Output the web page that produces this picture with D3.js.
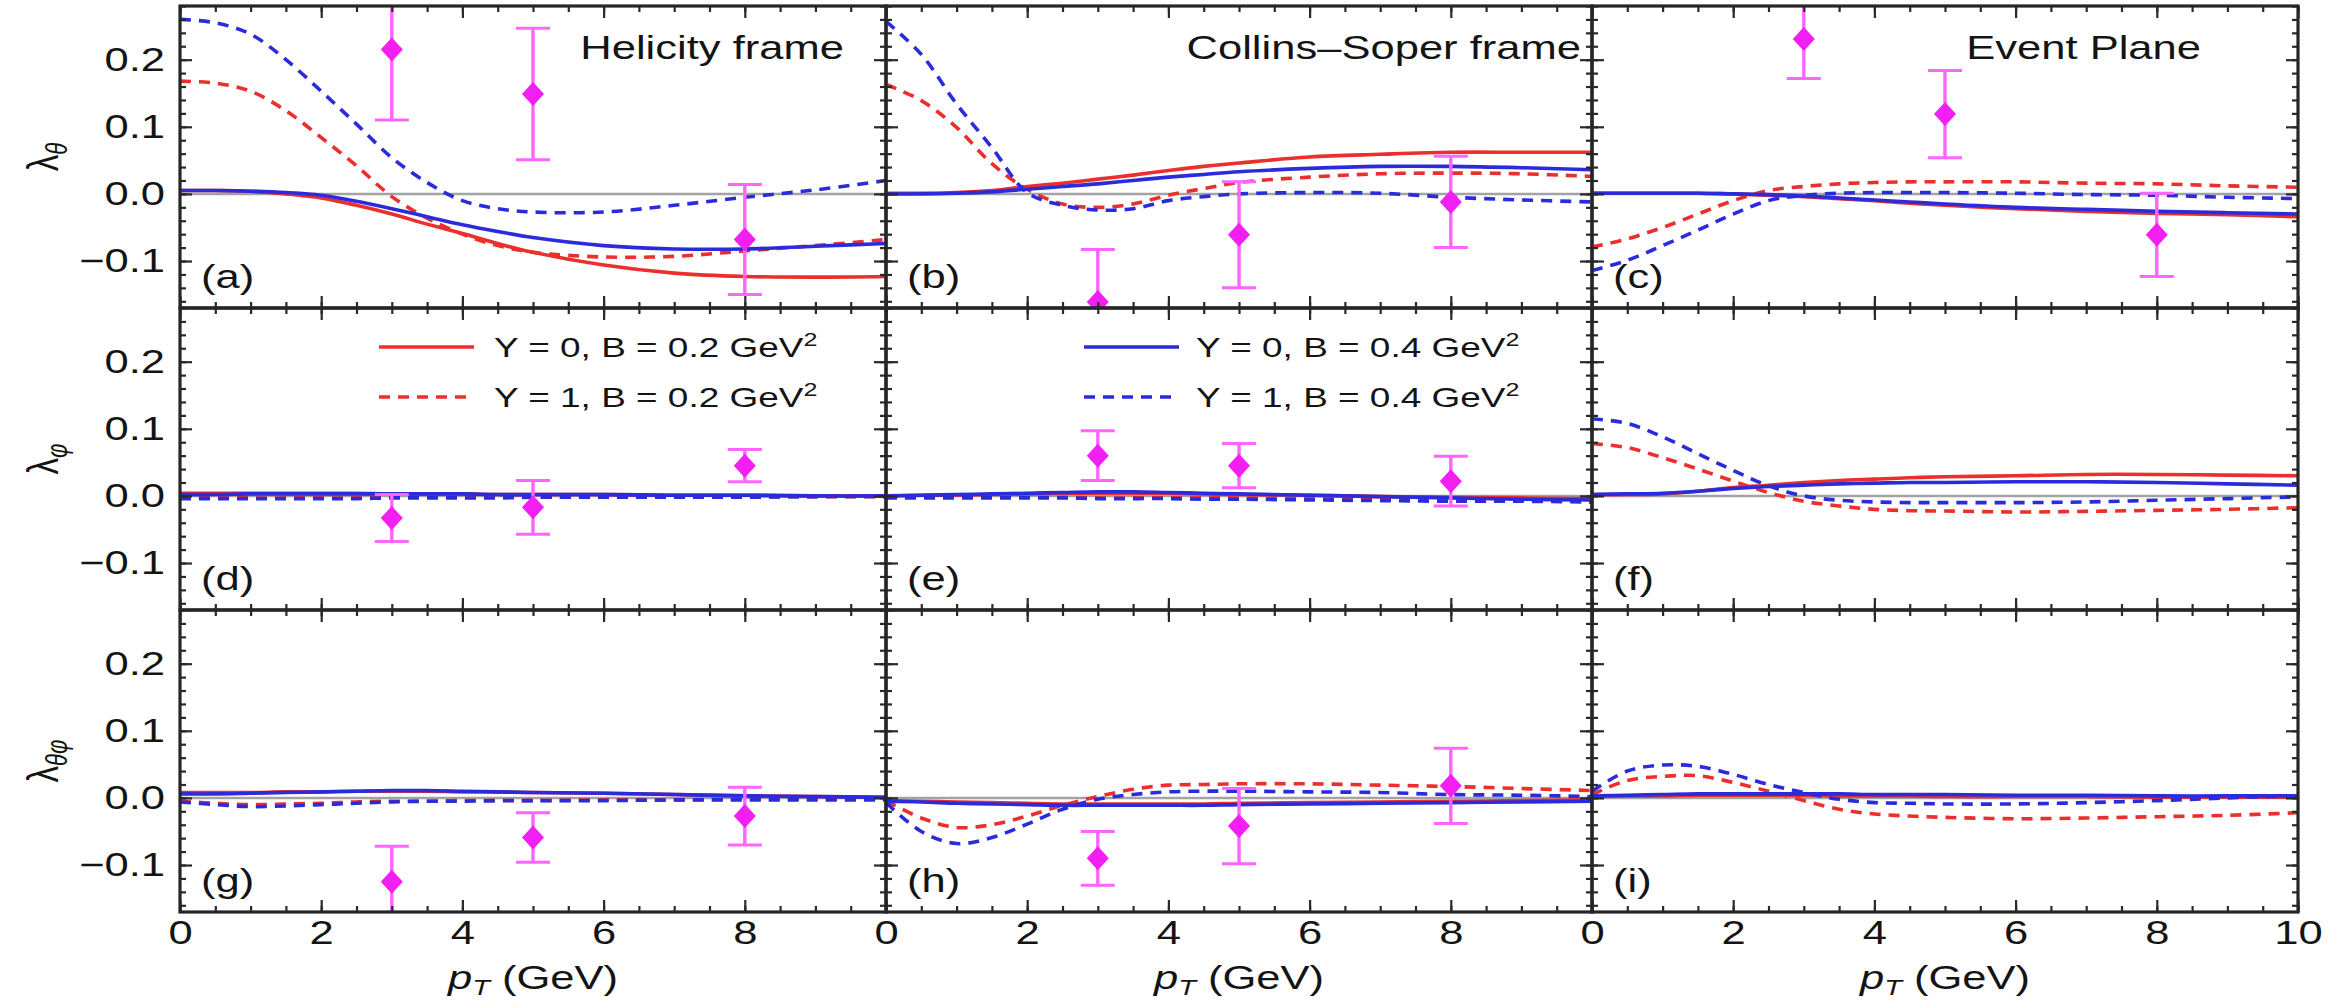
<!DOCTYPE html>
<html>
<head>
<meta charset="utf-8">
<script src="https://cdn.jsdelivr.net/npm/d3@7"></script>
<style>
  body { margin: 0; background: #fff; }
  svg { display: block; }
  text { font-family: "Liberation Sans", Arial, sans-serif; fill: #141414; }
</style>
</head>
<body>
<svg id="chart" width="2351" height="1003"></svg>
<script>
// ---------- data ----------
// sampling grid in p_T (GeV) shared by every model curve
const ptGrid = [0, 0.5, 1, 1.5, 2, 2.5, 3, 3.5, 4, 4.5, 5, 6, 7, 8, 9, 10];

// series order: [Y=0,B=0.2] [Y=1,B=0.2] [Y=0,B=0.4] [Y=1,B=0.4]
const seriesLabels = ["Y = 0, B = 0.2 GeV", "Y = 1, B = 0.2 GeV", "Y = 0, B = 0.4 GeV", "Y = 1, B = 0.4 GeV"];

// lambda_theta, Helicity frame
const curvesA = [
  [0.005, 0.005, 0.004, 0.000, -0.006, -0.017, -0.030, -0.045, -0.059, -0.074, -0.087, -0.106, -0.118, -0.123, -0.124, -0.123],
  [0.168, 0.165, 0.153, 0.124, 0.084, 0.042, -0.004, -0.036, -0.060, -0.077, -0.087, -0.094, -0.093, -0.085, -0.077, -0.068],
  [0.005, 0.005, 0.004, 0.002, -0.002, -0.011, -0.022, -0.034, -0.046, -0.056, -0.065, -0.077, -0.082, -0.082, -0.078, -0.074],
  [0.260, 0.255, 0.238, 0.200, 0.153, 0.104, 0.054, 0.017, -0.010, -0.022, -0.027, -0.027, -0.017, -0.005, 0.006, 0.020]
];
// lambda_theta, Collins-Soper frame
const curvesB = [
  [0.001, 0.001, 0.002, 0.005, 0.011, 0.016, 0.022, 0.028, 0.035, 0.041, 0.046, 0.055, 0.059, 0.062, 0.062, 0.062],
  [0.163, 0.139, 0.099, 0.045, 0.007, -0.015, -0.020, -0.015, -0.002, 0.008, 0.017, 0.025, 0.030, 0.031, 0.030, 0.026],
  [0.000, 0.000, 0.001, 0.003, 0.007, 0.011, 0.015, 0.020, 0.025, 0.029, 0.033, 0.038, 0.041, 0.041, 0.039, 0.036],
  [0.257, 0.208, 0.134, 0.069, 0.002, -0.017, -0.024, -0.022, -0.010, -0.004, 0.000, 0.002, 0.001, -0.005, -0.009, -0.012]
];
// lambda_theta, event plane
const curvesC = [
  [0.001, 0.001, 0.001, 0.001, 0.000, -0.002, -0.004, -0.007, -0.010, -0.014, -0.017, -0.022, -0.026, -0.029, -0.031, -0.034],
  [-0.079, -0.067, -0.050, -0.030, -0.010, 0.005, 0.011, 0.015, 0.017, 0.018, 0.018, 0.018, 0.016, 0.015, 0.012, 0.010],
  [0.001, 0.001, 0.001, 0.001, 0.000, -0.001, -0.003, -0.006, -0.009, -0.012, -0.015, -0.020, -0.023, -0.026, -0.028, -0.030],
  [-0.114, -0.099, -0.077, -0.054, -0.030, -0.010, -0.002, 0.001, 0.002, 0.002, 0.002, 0.001, -0.001, -0.002, -0.005, -0.007]
];
// lambda_phi, Helicity frame
const curvesD = [
  [0.004, 0.004, 0.004, 0.004, 0.004, 0.004, 0.003, 0.003, 0.003, 0.002, 0.002, 0.002, 0.001, 0.001, 0.000, 0.000],
  [-0.002, -0.002, -0.003, -0.003, -0.003, -0.003, -0.002, -0.002, -0.002, -0.002, -0.002, -0.002, -0.001, -0.001, -0.001, -0.001],
  [0.002, 0.002, 0.003, 0.003, 0.003, 0.003, 0.003, 0.003, 0.003, 0.002, 0.002, 0.002, 0.001, 0.001, 0.000, 0.000],
  [-0.004, -0.004, -0.004, -0.004, -0.004, -0.004, -0.003, -0.003, -0.003, -0.003, -0.002, -0.002, -0.002, -0.002, -0.001, -0.001]
];
// lambda_phi, Collins-Soper frame
const curvesE = [
  [0.000, 0.001, 0.001, 0.002, 0.003, 0.004, 0.004, 0.004, 0.004, 0.003, 0.002, 0.001, -0.001, -0.002, -0.003, -0.004],
  [-0.002, -0.002, -0.002, -0.002, -0.002, -0.002, -0.003, -0.003, -0.003, -0.003, -0.003, -0.004, -0.004, -0.005, -0.005, -0.006],
  [0.000, 0.001, 0.002, 0.003, 0.004, 0.005, 0.006, 0.006, 0.005, 0.004, 0.003, 0.001, -0.001, -0.003, -0.005, -0.006],
  [-0.003, -0.003, -0.003, -0.003, -0.003, -0.003, -0.004, -0.004, -0.004, -0.005, -0.005, -0.006, -0.007, -0.008, -0.008, -0.009]
];
// lambda_phi, event plane
const curvesF = [
  [0.002, 0.002, 0.003, 0.007, 0.0125, 0.016, 0.020, 0.023, 0.025, 0.027, 0.0285, 0.030, 0.032, 0.032, 0.031, 0.030],
  [0.078, 0.072, 0.057, 0.040, 0.022, 0.005, -0.008, -0.015, -0.020, -0.022, -0.0225, -0.024, -0.023, -0.0215, -0.020, -0.0175],
  [0.002, 0.003, 0.004, 0.007, 0.011, 0.014, 0.016, 0.018, 0.019, 0.020, 0.020, 0.021, 0.021, 0.020, 0.018, 0.016],
  [0.115, 0.108, 0.088, 0.063, 0.038, 0.015, 0.000, -0.0065, -0.009, -0.010, -0.010, -0.010, -0.009, -0.0065, -0.004, -0.0015]
];
// lambda_theta_phi, Helicity frame
const curvesG = [
  [0.008, 0.008, 0.008, 0.009, 0.009, 0.010, 0.010, 0.010, 0.009, 0.009, 0.008, 0.007, 0.005, 0.003, 0.002, 0.001],
  [-0.005, -0.008, -0.010, -0.009, -0.008, -0.006, -0.005, -0.005, -0.004, -0.004, -0.004, -0.003, -0.003, -0.002, -0.002, -0.002],
  [0.006, 0.006, 0.007, 0.008, 0.009, 0.010, 0.011, 0.011, 0.010, 0.009, 0.008, 0.007, 0.005, 0.003, 0.002, 0.001],
  [-0.006, -0.010, -0.013, -0.012, -0.010, -0.008, -0.006, -0.005, -0.005, -0.004, -0.004, -0.004, -0.003, -0.003, -0.003, -0.003]
];
// lambda_theta_phi, Collins-Soper frame
const curvesH = [
  [-0.004, -0.005, -0.006, -0.007, -0.008, -0.009, -0.009, -0.009, -0.009, -0.009, -0.008, -0.007, -0.006, -0.005, -0.004, -0.003],
  [-0.004, -0.030, -0.044, -0.040, -0.027, -0.011, 0.002, 0.013, 0.019, 0.020, 0.021, 0.021, 0.019, 0.017, 0.014, 0.011],
  [-0.005, -0.006, -0.008, -0.009, -0.010, -0.011, -0.011, -0.011, -0.011, -0.011, -0.010, -0.009, -0.008, -0.007, -0.006, -0.005],
  [-0.007, -0.050, -0.068, -0.059, -0.039, -0.017, -0.002, 0.005, 0.009, 0.010, 0.010, 0.009, 0.008, 0.005, 0.004, 0.002]
];
// lambda_theta_phi, event plane
const curvesI = [
  [0.002, 0.003, 0.003, 0.004, 0.004, 0.004, 0.004, 0.003, 0.003, 0.003, 0.002, 0.002, 0.002, 0.001, 0.001, 0.001],
  [0.005, 0.026, 0.032, 0.033, 0.023, 0.010, -0.004, -0.017, -0.024, -0.027, -0.029, -0.031, -0.030, -0.028, -0.026, -0.022],
  [0.003, 0.004, 0.005, 0.006, 0.006, 0.006, 0.006, 0.006, 0.005, 0.005, 0.005, 0.004, 0.004, 0.003, 0.003, 0.003],
  [0.010, 0.040, 0.049, 0.047, 0.035, 0.020, 0.008, -0.002, -0.007, -0.008, -0.009, -0.009, -0.007, -0.004, 0.000, 0.003]
];

// measured points (p_T bins) with symmetric uncertainties
const dataPt = [3, 5, 8];
const pointsA = [0.215, 0.149, -0.068], errA = [0.105, 0.098, 0.082];
const pointsB = [-0.161, -0.061, -0.012], errB = [0.078, 0.079, 0.068];
const pointsC = [0.231, 0.119, -0.061], errC = [0.059, 0.065, 0.062];
const pointsD = [-0.033, -0.017, 0.045], errD = [0.035, 0.040, 0.024];
const pointsE = [0.060, 0.045, 0.022], errE = [0.037, 0.033, 0.037];
const pointsG = [-0.125, -0.059, -0.027], errG = [0.053, 0.037, 0.043];
const pointsH = [-0.090, -0.042, 0.018], errH = [0.040, 0.056, 0.056];

const panelTags = ["(a)", "(b)", "(c)", "(d)", "(e)", "(f)", "(g)", "(h)", "(i)"];
const frameTitles = ["Helicity frame", "Collins\u2013Soper frame", "Event Plane"];
const rowSubscripts = ["\u03b8", "\u03c6", "\u03b8\u03c6"];
const yTickValues = [-0.1, 0, 0.1, 0.2];
const xTickValuesInner = [0, 2, 4, 6, 8];
const xTickValuesLast = [0, 2, 4, 6, 8, 10];

const panelCurves = [curvesA, curvesB, curvesC, curvesD, curvesE, curvesF, curvesG, curvesH, curvesI];
const panelPoints = [
  [pointsA, errA], [pointsB, errB], [pointsC, errC],
  [pointsD, errD], [pointsE, errE], null,
  [pointsG, errG], [pointsH, errH], null
];

// ---------- layout & style ----------
const SX = 1.32;                      // lettering is drawn horizontally widened
const colLeft = [180, 886, 1592];
const rowTop = [6, 308, 610];
const PW = 706, PH = 302;
const FONT = 33;
const RED = "#ea2f2c", BLUE = "#2b2bdc", MAGENTA = "#f21ef2", BAR = "#ff66ff";
const seriesColor = [RED, RED, BLUE, BLUE];
const seriesDash = [null, "11,8", null, "11,8"];
const titleRight = [844, 1581, 2201];

const x = d3.scaleLinear().domain([0, 10]).range([0, PW]);
const y = d3.scaleLinear().domain([-0.17, 0.28]).range([PH, 0]);

const svg = d3.select("#chart");
const defs = svg.append("defs");
defs.append("clipPath").attr("id", "panel-clip")
  .append("rect").attr("x", 0).attr("y", 0).attr("width", PW).attr("height", PH);

const line = d3.line()
  .x((d, i) => x(ptGrid[i]))
  .y(d => y(d))
  .curve(d3.curveCatmullRom.alpha(0.5));

const minorX = d3.range(0, 10.001, 0.5);
const majorX = d3.range(0, 10.001, 2);
const minorY = d3.range(-0.16, 0.2801, 0.02);
const majorY = yTickValues;

function widenText(sel) {
  sel.each(function () {
    const t = d3.select(this);
    const xv = +(t.attr("x") || 0);
    t.attr("x", xv / SX).attr("transform", `scale(${SX},1)`);
  });
}

function tickAxes(g) {
  const mk = [
    [d3.axisBottom, x, minorX, 6, `translate(0,${PH})`],
    [d3.axisBottom, x, majorX, 12, `translate(0,${PH})`],
    [d3.axisTop, x, minorX, 6, null],
    [d3.axisTop, x, majorX, 12, null],
    [d3.axisLeft, y, minorY, 6, null],
    [d3.axisLeft, y, majorY, 12, null],
    [d3.axisRight, y, minorY, 6, `translate(${PW},0)`],
    [d3.axisRight, y, majorY, 12, `translate(${PW},0)`]
  ];
  mk.forEach(([axisFn, sc, vals, len, tr]) => {
    const a = g.append("g").attr("class", "ticks");
    if (tr) a.attr("transform", tr);
    a.call(axisFn(sc).tickValues(vals).tickSizeInner(-len).tickSizeOuter(0).tickFormat(""));
    a.select(".domain").remove();
    a.selectAll("line").attr("stroke", "#2a2a2a").attr("stroke-width", 2.2);
  });
}

panelCurves.forEach((curves, p) => {
  const col = p % 3, row = Math.floor(p / 3);
  const g = svg.append("g").attr("transform", `translate(${colLeft[col]},${rowTop[row]})`);

  // zero reference line
  g.append("line")
    .attr("x1", 0).attr("x2", PW).attr("y1", y(0)).attr("y2", y(0))
    .attr("stroke", "#a3a3a3").attr("stroke-width", 2.5);

  const plot = g.append("g").attr("clip-path", "url(#panel-clip)");

  // model curves
  curves.forEach((vals, s) => {
    plot.append("path")
      .attr("d", line(vals))
      .attr("fill", "none")
      .attr("stroke", seriesColor[s])
      .attr("stroke-width", 3.6)
      .attr("stroke-dasharray", seriesDash[s]);
  });

  // measured points with error bars
  const pts = panelPoints[p];
  if (pts) {
    const [vals, errs] = pts;
    const dg = plot.selectAll("g.pt").data(vals.map((v, i) => ({ pt: dataPt[i], v, e: errs[i] })))
      .enter().append("g").attr("class", "pt");
    dg.append("line")
      .attr("x1", d => x(d.pt)).attr("x2", d => x(d.pt))
      .attr("y1", d => y(d.v + d.e)).attr("y2", d => y(d.v - d.e))
      .attr("stroke", BAR).attr("stroke-width", 3.4);
    [1, -1].forEach(sg => {
      dg.append("line")
        .attr("x1", d => x(d.pt) - 17).attr("x2", d => x(d.pt) + 17)
        .attr("y1", d => y(d.v + sg * d.e)).attr("y2", d => y(d.v + sg * d.e))
        .attr("stroke", BAR).attr("stroke-width", 3);
    });
    dg.append("path")
      .attr("transform", d => `translate(${x(d.pt)},${y(d.v)})`)
      .attr("d", "M0,-12L11,0L0,12L-11,0Z")
      .attr("fill", MAGENTA);
  }

  // frame with inward ticks on all four sides
  tickAxes(g);
  g.append("rect")
    .attr("x", 0).attr("y", 0).attr("width", PW).attr("height", PH)
    .attr("fill", "none").attr("stroke", "#262626").attr("stroke-width", 3.2);

  // panel tag
  g.append("text")
    .attr("transform", `translate(21,${PH - 20}) scale(${SX},1)`)
    .attr("font-size", FONT)
    .text(panelTags[p]);

  // frame titles on the top row
  if (row === 0) {
    g.append("text")
      .attr("transform", `translate(${titleRight[col] - colLeft[col]},53) scale(${SX},1)`)
      .attr("text-anchor", "end")
      .attr("font-size", FONT)
      .text(frameTitles[col]);
  }

  // y tick labels on the left column
  if (col === 0) {
    const ya = g.append("g").call(
      d3.axisLeft(y).tickValues(yTickValues).tickSize(0).tickPadding(15).tickFormat(d3.format(".1f")));
    ya.select(".domain").remove();
    ya.selectAll("text").attr("font-size", FONT).attr("font-family", null).attr("fill", "#141414");
    widenText(ya.selectAll("text"));

    const lab = svg.append("text")
      .attr("transform", `translate(58,${rowTop[row] + PH / 2}) scale(${SX},1) rotate(-90)`)
      .attr("text-anchor", "middle")
      .attr("font-size", FONT);
    lab.append("tspan").text("\u03bb");
    lab.append("tspan").attr("font-size", 22).attr("font-style", "italic")
      .attr("dy", 7).text(rowSubscripts[row]);
  }

  // x tick labels and title on the bottom row
  if (row === 2) {
    const xa = g.append("g").attr("transform", `translate(0,${PH})`).call(
      d3.axisBottom(x).tickValues(col === 2 ? xTickValuesLast : xTickValuesInner)
        .tickSize(0).tickPadding(9).tickFormat(d3.format("d")));
    xa.select(".domain").remove();
    xa.selectAll("text").attr("font-size", FONT).attr("font-family", null).attr("fill", "#141414");
    widenText(xa.selectAll("text"));

    const t = g.append("text")
      .attr("transform", `translate(${PW / 2},${989 - rowTop[row]}) scale(${SX},1)`)
      .attr("text-anchor", "middle")
      .attr("font-size", FONT);
    t.append("tspan").attr("font-style", "italic").text("p");
    t.append("tspan").attr("font-style", "italic").attr("font-size", 22).attr("dy", 6).text("T");
    t.append("tspan").attr("dy", -6).text(" (GeV)");
  }
});

// legends: red pair in (d), blue pair in (e)
const legendSpec = [
  { panel: 3, series: [0, 1], lineX: [379, 474], textX: 494 },
  { panel: 4, series: [2, 3], lineX: [1084, 1179], textX: 1196 }
];
const legendRowsY = [347, 397];
legendSpec.forEach(spec => {
  spec.series.forEach((s, k) => {
    const ly = legendRowsY[k];
    svg.append("line")
      .attr("x1", spec.lineX[0]).attr("x2", spec.lineX[1]).attr("y1", ly).attr("y2", ly)
      .attr("stroke", seriesColor[s]).attr("stroke-width", 3.6)
      .attr("stroke-dasharray", seriesDash[s]);
    const t = svg.append("text")
      .attr("transform", `translate(${spec.textX},${ly + 10}) scale(${SX},1)`)
      .attr("font-size", 28);
    t.append("tspan").text(seriesLabels[s]);
    t.append("tspan").attr("font-size", 19).attr("dy", -11).text("2");
  });
});
</script>
</body>
</html>
